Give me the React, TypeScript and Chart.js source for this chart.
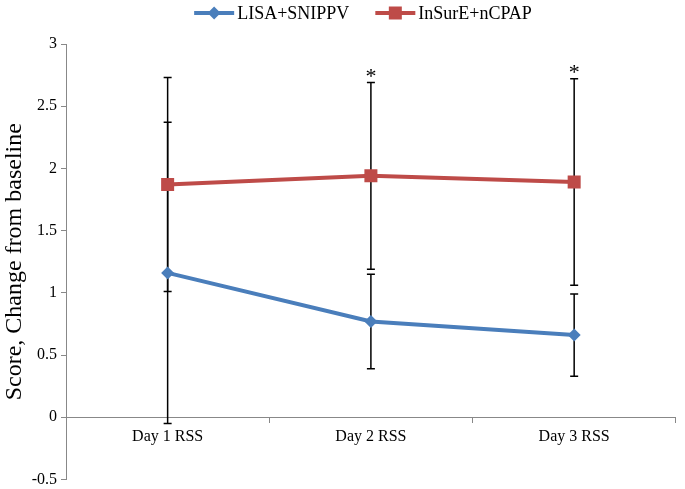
import React, { useEffect, useRef } from "react";
import { Chart, registerables } from "chart.js";

Chart.register(...registerables);

const categories = ["Day 1 RSS", "Day 2 RSS", "Day 3 RSS"];
const lisaValues = [1.16, 0.77, 0.66];
const lisaErrors = [1.21, 0.38, 0.33];
const insureValues = [1.87, 1.94, 1.89];
const insureErrors = [0.86, 0.75, 0.83];
const significant = [false, true, true];
const yTicks = [-0.5, 0, 0.5, 1, 1.5, 2, 2.5, 3];

const seriesNames = ["LISA+SNIPPV", "InSurE+nCPAP"];
const BLUE = "#4A7EBB";
const RED = "#BE4B48";
const FONT = "'Liberation Serif', 'Times New Roman', serif";

const errorBarPlugin = {
  id: "errorBars",
  beforeDatasetsDraw(chart: any) {
    const { ctx, scales } = chart;
    const x = scales.x;
    const y = scales.y;
    const errs = [lisaErrors, insureErrors];
    const vals = [lisaValues, insureValues];
    ctx.save();
    ctx.strokeStyle = "#000";
    ctx.lineWidth = 1.5;
    for (let s = 0; s < 2; s++) {
      for (let i = 0; i < categories.length; i++) {
        const px = x.getPixelForValue(i);
        const top = y.getPixelForValue(vals[s][i] + errs[s][i]);
        const bot = y.getPixelForValue(vals[s][i] - errs[s][i]);
        ctx.beginPath();
        ctx.moveTo(px, top);
        ctx.lineTo(px, bot);
        ctx.moveTo(px - 4, top);
        ctx.lineTo(px + 4, top);
        ctx.moveTo(px - 4, bot);
        ctx.lineTo(px + 4, bot);
        ctx.stroke();
      }
    }
    ctx.restore();
  },
  afterDatasetsDraw(chart: any) {
    const { ctx, scales } = chart;
    const x = scales.x;
    const y = scales.y;
    ctx.save();
    ctx.fillStyle = "#000";
    ctx.font = `22px ${FONT}`;
    ctx.textAlign = "center";
    ctx.textBaseline = "alphabetic";
    for (let i = 0; i < categories.length; i++) {
      if (!significant[i]) continue;
      const top = Math.min(
        y.getPixelForValue(lisaValues[i] + lisaErrors[i]),
        y.getPixelForValue(insureValues[i] + insureErrors[i])
      );
      ctx.fillText("*", x.getPixelForValue(i), top);
    }
    ctx.restore();
  },
};

const legendPlugin = {
  id: "customLegend",
  afterDraw(chart: any) {
    const { ctx } = chart;
    ctx.save();
    ctx.font = `18px ${FONT}`;
    const lineW = 40;
    const gap = 3;
    const itemGap = 26;
    const widths = seriesNames.map((n) => ctx.measureText(n).width);
    const total = lineW * 2 + gap * 2 + widths[0] + widths[1] + itemGap;
    let cx = 363 - total / 2;
    const cy = 13;
    const colors = [BLUE, RED];
    for (let s = 0; s < 2; s++) {
      ctx.strokeStyle = colors[s];
      ctx.fillStyle = colors[s];
      ctx.lineWidth = 4;
      ctx.beginPath();
      ctx.moveTo(cx, cy);
      ctx.lineTo(cx + lineW, cy);
      ctx.stroke();
      const mx = cx + lineW / 2;
      ctx.beginPath();
      if (s === 0) {
        ctx.moveTo(mx, cy - 6.5);
        ctx.lineTo(mx + 6.5, cy);
        ctx.lineTo(mx, cy + 6.5);
        ctx.lineTo(mx - 6.5, cy);
        ctx.closePath();
      } else {
        ctx.rect(mx - 6.5, cy - 6.5, 13, 13);
      }
      ctx.fill();
      ctx.fillStyle = "#000";
      ctx.textAlign = "left";
      ctx.textBaseline = "middle";
      ctx.fillText(seriesNames[s], cx + lineW + gap, cy + 1);
      cx += lineW + gap + widths[s] + itemGap;
    }
    ctx.restore();
  },
};

export default function App() {
  const canvasRef = useRef<HTMLCanvasElement | null>(null);

  useEffect(() => {
    if (!canvasRef.current) return;
    const chart = new Chart(canvasRef.current, {
      type: "line",
      data: {
        labels: categories,
        datasets: [
          {
            label: seriesNames[0],
            data: lisaValues,
            borderColor: BLUE,
            backgroundColor: BLUE,
            borderWidth: 4,
            pointStyle: "rectRot",
            pointRadius: 6.5,
            pointBorderWidth: 0,
            pointBackgroundColor: BLUE,
            tension: 0,
          },
          {
            label: seriesNames[1],
            data: insureValues,
            borderColor: RED,
            backgroundColor: RED,
            borderWidth: 4,
            pointStyle: "rect",
            pointRadius: 9.2,
            pointBorderWidth: 0,
            pointBackgroundColor: RED,
            tension: 0,
          },
        ],
      },
      options: {
        animation: false,
        responsive: true,
        maintainAspectRatio: false,
        layout: { padding: { top: 44, right: 2, bottom: 8, left: 0 } },
        plugins: {
          legend: { display: false },
          tooltip: { enabled: false },
        },
        scales: {
          x: {
            type: "category",
            position: { y: 0 } as any,
            offset: true,
            grid: {
              display: true,
              drawOnChartArea: false,
              offset: true,
              tickLength: 5,
              color: "#888",
            },
            border: { color: "#888", width: 1 },
            ticks: {
              color: "#000",
              font: { family: FONT, size: 16 },
              padding: 5,
              maxRotation: 0,
            },
          },
          y: {
            min: -0.5,
            max: 3,
            afterBuildTicks(scale: any) {
              scale.ticks = yTicks.map((v) => ({ value: v }));
            },
            afterFit(scale: any) {
              scale.width = 66;
            },
            grid: {
              display: true,
              drawOnChartArea: false,
              tickLength: 5,
              color: "#888",
            },
            border: { color: "#888", width: 1 },
            ticks: {
              color: "#000",
              font: { family: FONT, size: 16 },
              padding: 4,
              callback: (v: any) => String(v),
            },
            title: {
              display: true,
              text: "Score, Change from baseline",
              color: "#000",
              font: { family: FONT, size: 24 },
              padding: { top: 0, bottom: 0 },
            },
          },
        },
      },
      plugins: [errorBarPlugin, legendPlugin],
    });
    return () => chart.destroy();
  }, []);

  return (
    <div style={{ position: "fixed", left: 0, top: 0, width: 685, height: 493, background: "#fff" }}>
      <canvas ref={canvasRef} />
    </div>
  );
}
